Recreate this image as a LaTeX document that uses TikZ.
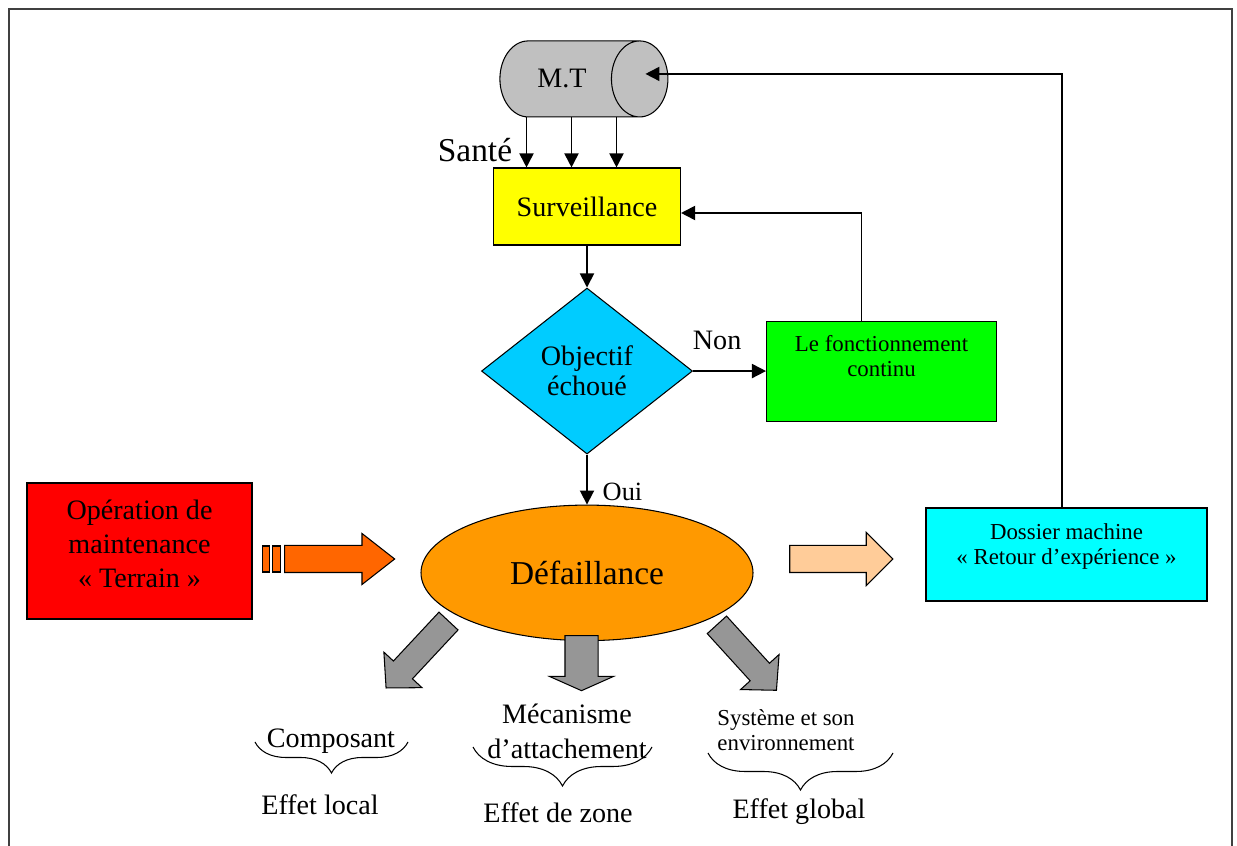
\documentclass[tikz,border=0pt]{standalone}
\usepackage{fontspec}
\setmainfont{Liberation Serif}
\usetikzlibrary{arrows.meta,positioning,shapes.geometric,shapes.arrows,decorations.pathreplacing}

\definecolor{mtgray}{RGB}{192,192,192}
\definecolor{survyellow}{RGB}{255,255,0}
\definecolor{objcyan}{RGB}{0,204,255}
\definecolor{contgreen}{RGB}{0,255,0}
\definecolor{deforange}{RGB}{255,153,0}
\definecolor{operred}{RGB}{255,0,0}
\definecolor{dosscyan}{RGB}{0,255,255}
\definecolor{oparrow}{RGB}{255,102,0}
\definecolor{retarrow}{RGB}{255,204,153}
\definecolor{effgray}{RGB}{150,150,150}

\begin{document}
\begin{tikzpicture}[
        node distance=1cm,
        box/.style={draw, line width=0.6pt, align=center, inner sep=0pt},
        arrow/.style={-{Triangle[length=8pt,width=8pt]}, line width=1pt},
        bigarrow/.style={single arrow, draw, line width=0.6pt, inner xsep=0pt, minimum width=0pt},
        fsix/.style={font=\fontsize{16}{19.2}\selectfont},
        fthree/.style={font=\fontsize{13}{14.5}\selectfont},
        fnine/.style={font=\fontsize{19}{23}\selectfont},
        brc/.style={decorate, decoration={brace, mirror, amplitude=#1}, semithick}
    ]
        \useasboundingbox (0,0) rectangle (24.74,16.92);
        \draw[line width=1.2pt, black!75] (0.18,0) |- (24.64,16.74) -- (24.64,0);

        % main column
        \node[box, fill=survyellow, minimum width=3.74cm, minimum height=1.54cm, fsix] (surv) at (11.74,12.79) {Surveillance};
        \node[cylinder, draw, line width=0.6pt, fill=mtgray, aspect=1.85, minimum height=3.36cm, minimum width=1.52cm, fsix, above=1cm of surv, xshift=-0.5cm] (mt) {M.T};
        \node[diamond, box, fill=objcyan, minimum width=4.22cm, minimum height=3.32cm, below=0.84cm of surv, font=\fontsize{16}{17}\selectfont] (obj) {Objectif\\échoué};
        \node[ellipse, box, fill=deforange, minimum width=6.64cm, minimum height=2.71cm, below=1cm of obj, fnine] (def) {Défaillance};
        \node[box, fill=contgreen, minimum width=4.6cm, minimum height=2cm, right=1.46cm of obj] (cont) {};
        \node[fthree, align=center] (conttxt) at ([yshift=0.3cm]cont.center) {Le fonctionnement\\continu};

        % side boxes
        \node[box, fill=operred, minimum width=4.5cm, minimum height=2.72cm] (oper) at (2.79,5.90) {};
        \node[fsix, align=center] (opertxt) at ([yshift=0.14cm]oper.center) {Opération de\\maintenance\\« Terrain »};
        \node[box, fill=dosscyan, minimum width=5.62cm, minimum height=1.86cm] (doss) at (21.33,5.83) {};
        \node[fthree, align=center] (dosstxt) at ([yshift=0.16cm]doss.center) {Dossier machine\\« Retour d’expérience »};

        % block arrows
        \node[box, fill=oparrow, minimum width=0.14cm, minimum height=0.52cm] (st1) at (5.32,5.74) {};
        \node[box, fill=oparrow, minimum width=0.17cm, minimum height=0.52cm] (st2) at (5.53,5.74) {};
        \node[bigarrow, fill=oparrow, inner ysep=0.26cm, single arrow head extend=0.24cm, single arrow tip angle=76, minimum height=2.2cm] (opar) at (6.62,5.74) {};
        \node[bigarrow, fill=retarrow, inner ysep=0.26cm, single arrow head extend=0.26cm, minimum height=2.06cm] (retar) at (16.69,5.74) {};
        \node[bigarrow, fill=effgray, inner ysep=0.25cm, single arrow head extend=0.26cm, single arrow tip angle=93, minimum height=1.83cm, rotate=227] (locar) at (8.43,3.92) {};
        \node[bigarrow, fill=effgray, inner ysep=0.32cm, single arrow head extend=0.31cm, single arrow tip angle=132, minimum height=1.1cm, rotate=270] (zonar) at (11.63,3.73) {};
        \node[bigarrow, fill=effgray, inner ysep=0.25cm, single arrow head extend=0.26cm, single arrow tip angle=93, minimum height=1.77cm, rotate=-47.7] (globar) at (14.85,3.86) {};

        % connectors
        \node[fnine] (sante) at (9.5,13.92) {Santé};
        \foreach \dx in {-1.21,-0.31,0.59}
            \draw[arrow] ([xshift=\dx cm]surv.north |- mt.south) -- ([xshift=\dx cm]surv.north);
        \draw[arrow] (surv) -- (obj);
        \draw[arrow] (obj.east) -- node[fsix, pos=0.33, above=0.3cm] (non) {Non} (obj.east -| cont.west);
        \draw[arrow] ([xshift=-0.4cm]cont.north) |- ([yshift=-0.13cm]surv.east);
        \draw[arrow] (obj) -- node[font=\fontsize{15}{18}\selectfont, pos=0.74, right=0.18cm] (oui) {Oui} (def);
        \draw[arrow] ([xshift=-0.09cm]doss.north) |- ([xshift=-0.46cm,yshift=0.1cm]mt.east);

        % effects
        \node[fsix] (comp) at (6.62,2.1) {Composant};
        \node[fsix] (loc) at (6.4,0.82) {Effet local};
        \node[font=\fontsize{16}{20}\selectfont, align=center] (meca) at (11.34,2.3) {Mécanisme\\d’attachement};
        \node[fsix] (zone) at (11.16,0.66) {Effet de zone};
        \node[fthree, align=left] (syst) at (15.72,2.32) {Système et son\\environnement};
        \node[fsix] (glob) at (15.98,0.68) {Effet global};
        \draw[brc=0.62cm] (5.1,2.08) -- (8.16,2.08);
        \draw[brc=0.78cm] (9.46,1.98) -- (13.04,1.98);
        \draw[brc=0.74cm] (14.16,1.86) -- (17.86,1.86);
    \end{tikzpicture}
\end{document}
